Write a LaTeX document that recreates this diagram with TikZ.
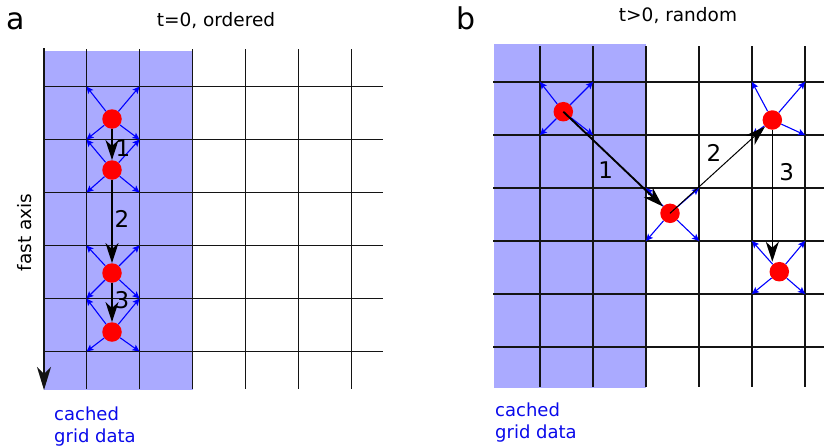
\documentclass[tikz,border=0pt]{standalone}
\usepackage{fontspec}
\setmainfont{DejaVu Sans}
\usetikzlibrary{arrows.meta}
\definecolor{cache}{RGB}{170,170,255}
\definecolor{gridc}{RGB}{20,20,20}
\definecolor{txtblue}{RGB}{10,10,235}
\begin{document}
\begin{tikzpicture}[x=1pt,y=-1pt,
 gridline/.style={draw=gridc, line width=1.7pt},
 dot/.style={circle, fill=red, inner sep=0pt, minimum size=19.5pt},
 nb/.style={-{Stealth[length=7pt,width=6.5pt,inset=1.5pt]}, draw=blue, line width=1.1pt},
 mv/.style={-{Stealth[length=20pt,width=13pt,inset=6pt]}, draw=black, line width=1.4pt},
 num/.style={font=\fontsize{23}{23}\selectfont, inner sep=0pt},
 title/.style={font=\fontsize{18.5}{20}\selectfont, anchor=base, inner sep=0pt},
 letter/.style={font=\fontsize{30}{30}\selectfont, anchor=base, inner sep=0pt},
 cachelbl/.style={font=\fontsize{18}{22}\selectfont, text=txtblue, anchor=base west, inner sep=0pt},
]
\useasboundingbox (0,0) rectangle (824,447);

% ---------------- panel a ----------------
\fill[cache] (44,51) rectangle (192.5,390);
\foreach \x in {86.5,139.5,192.5,245.5,298.5,351.5}
  \draw[gridline] (\x,49) -- (\x,389);
\foreach \y in {86.5,139.5,192.5,245.5,298.5,351.5}
  \draw[gridline] (44,\y) -- (383,\y);
\coordinate (fa0) at (44,48);
\coordinate (fa1) at (44,390);
\draw[gridline, -{Stealth[length=23pt,width=14pt,inset=7pt]}] (fa0) -- (fa1);
\node[rotate=90, font=\fontsize{18.5}{20}\selectfont] (fastlbl) at (25,232.5) {fast axis};

\node[dot] (a1) at (112,119) {};
\node[dot] (a2) at (112,170) {};
\node[dot] (a3) at (112,273) {};
\node[dot] (a4) at (112,332) {};

% ---------------- panel b ----------------
\fill[cache] (494,43.5) rectangle (646,388);
\foreach \x in {540,593,646,699,752,805}
  \draw[gridline] (\x,46) -- (\x,387);
\foreach \y in {82,135,188,241,294,347}
  \draw[gridline] (493,\y) -- (824,\y);

\node[dot] (b1) at (563.3,111.7) {};
\node[dot] (b2) at (670,213.3) {};
\node[dot] (b3) at (772.3,120) {};
\node[dot] (b4) at (779.3,271.7) {};

% neighbour arrows
\foreach \n/\cx/\cy in {a1/86.5/86.5, a2/86.5/139.5, a3/86.5/245.5, a4/86.5/298.5,
                        b1/540/82, b2/646/188, b3/752/82, b4/752/241}{
  \draw[nb] (\n) -- (\cx,\cy);
  \draw[nb] (\n) -- (\cx+53,\cy);
  \draw[nb] (\n) -- (\cx,\cy+53);
  \draw[nb] (\n) -- (\cx+53,\cy+53);
}

% moves, panel a
\draw[mv] (a1) -- (a2);
\draw[mv] (a2) -- (a3);
\draw[mv] (a3) -- (a4);
\node[num] (la1) at (123,148) {1};
\node[num] (la2) at (122,219) {2};
\node[num] (la3) at (122,300) {3};

% moves, panel b
\draw[mv, line width=1.9pt] (b1.center) -- (b2);
\draw[mv, line width=1pt] (b2.center) -- (b3);
\draw[mv] (b3) -- (b3 |- b4.north);
\node[num] (lb1) at (605.7,170) {1};
\node[num] (lb2) at (714,153) {2};
\node[num] (lb3) at (786.7,172) {3};

% texts
\node[letter] (pa) at (16,29) {a};
\node[letter] (pb) at (466,29.3) {b};
\node[title] (ta) at (216,27) {t=0, ordered};
\node[title] (tb) at (678,21.7) {t>0, random};
\node[cachelbl] (ca1) at (54,420) {cached};
\node[cachelbl] (ca2) at (54,442) {grid data};
\node[cachelbl] (cb1) at (495,416.7) {cached};
\node[cachelbl] (cb2) at (495,438.5) {grid data};
\end{tikzpicture}
\end{document}
